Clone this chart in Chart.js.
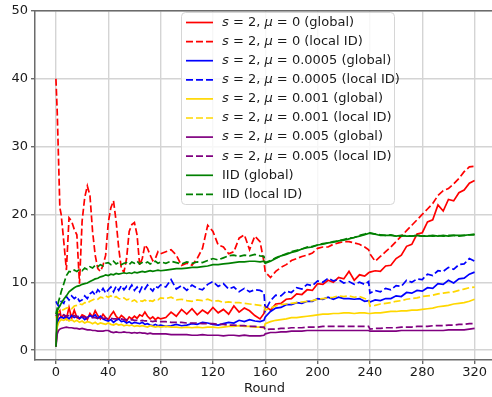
<!DOCTYPE html>
<html lang="en">
<head>
  <meta charset="UTF-8" />
  <title>Accuracy per round</title>
  <script src="https://cdn.jsdelivr.net/npm/chart.js"></script>
  <style>
    html, body { margin: 0; padding: 0; background: #fff; overflow: hidden; }
    canvas { display: block; }
  </style>
</head>
<body>
  <canvas id="roundsChart" width="492" height="397"></canvas>

  <script>
    // rounds where values were logged
    const rounds = [0,1,2,3,4,6,8,10,12,14,16,18,20,22,24,26,28,30,32,34,36,38,40,42,44,46,48,50,52,54,56,58,60,62,64,66,68,70,72,74,76,78,80,
      84,88,92,96,100,104,108,112,116,120,124,128,132,136,140,144,148,152,156,159,
      160,164,168,172,176,180,184,188,192,196,200,204,208,212,216,220,224,228,232,236,239,
      240,244,248,252,256,260,264,268,272,276,280,284,288,292,296,300,304,308,312,316,320];

    const xTicks = [0, 40, 80, 120, 160, 200, 240, 280, 320];
    const yTicks = [0, 10, 20, 30, 40, 50];

    const mu0Global = [0.5,4.3,5.5,5.8,4.8,5.2,4.6,6.3,4.7,5.9,4.8,4.6,5.2,5.0,4.5,5.4,4.9,5.8,5.1,4.6,5.3,4.8,4.5,5.2,5.7,5.0,4.6,5.1,4.8,4.3,4.9,4.6,5.0,4.7,5.2,5.0,5.6,5.0,4.6,4.9,4.5,4.8,4.6,
      4.8,5.6,5.0,6.0,5.3,6.1,5.2,5.9,5.4,6.3,5.5,6.0,5.3,6.5,5.6,6.2,5.8,5.1,4.6,5.4,
      6.5,5.9,6.8,6.9,7.5,7.6,8.3,8.2,8.9,8.8,9.8,9.7,10.3,10.0,10.7,10.5,11.6,10.3,11.1,10.9,11.4,
      11.5,11.7,11.6,12.4,12.5,13.5,14.0,15.3,15.6,17.1,17.3,18.9,19.2,21.4,20.5,22.2,22.0,23.2,23.6,24.6,25.0];
    const mu0Local = [40,35,28,21,20,16,11.8,19.5,19,17.8,17,9.8,19,22.5,24.2,22.8,17.5,14,12,11.6,12.5,14,18.8,21,22,19,15,12,11.5,13.5,17.5,18.5,18.8,17,12.5,13.5,15.5,15,14,13.2,13.5,14.5,14.2,
      14.5,14.8,14,12.5,12.8,12.5,13.5,15,18.4,17.5,15.5,15.2,14.2,14.5,16.5,17,14.8,16.8,16,13,
      11.5,10.7,11.6,12.2,12.6,13.2,13.5,13.8,14,14.3,15,15.2,15.2,15.6,15.8,16,16,15.8,15.6,15.2,14.8,
      14.2,13.1,13.8,14.5,15.2,16,16.8,17.6,18.4,19.2,20,20.8,21.6,22.8,23.5,23.8,24.5,25.3,26.3,27,27.1];
    const mu0005Global = [0.5,3.8,4.5,4.8,4.9,4.7,5.0,4.6,5.1,4.8,5.0,4.7,4.9,4.5,4.8,5.1,4.9,5.2,4.7,5.0,4.6,4.4,4.3,4.5,4.1,4.4,4.6,4.2,4.3,4.0,4.2,3.9,4.1,4.0,3.9,4.1,3.8,3.9,3.7,3.6,3.8,3.6,3.7,
      3.5,3.6,3.8,3.6,3.7,3.9,3.8,4.1,4.0,3.8,3.7,3.9,4.1,4.0,4.4,4.2,4.5,4.3,4.2,4.4,
      4.9,5.7,6.2,6.3,6.7,6.7,7.0,6.9,7.2,7.2,7.6,7.5,7.8,7.5,7.8,7.6,7.6,7.5,7.6,7.2,7.3,
      7.1,7.4,7.3,7.6,7.6,8.0,7.9,8.5,8.4,8.8,8.7,9.2,9.1,9.8,9.7,10.3,9.9,10.5,10.6,11.2,11.5];
    const mu0005Local = [7.2,6.8,6.5,7.0,7.2,6.9,7.9,7.4,8.0,7.6,7.9,7.2,7.4,8.0,7.6,8.3,8.6,8.1,8.9,8.5,9.1,8.4,8.9,9.3,8.6,9.4,8.8,9.5,8.9,9.4,9.0,9.6,8.8,9.3,8.6,9.4,9.0,9.6,9.1,8.7,9.4,9.2,9.6,
      9.3,10.4,9.0,9.5,8.8,9.6,9.1,8.9,9.7,10.1,9.4,9.8,9.0,9.3,8.6,9.1,8.6,8.9,8.8,8.5,
      5.8,7.3,8.1,8.0,8.7,8.5,9.2,9.0,9.7,9.5,10.2,10.0,10.6,10.2,10.4,9.9,10.1,9.7,10.0,9.7,10.1,
      8.4,8.8,8.6,9.1,8.9,9.5,9.4,10.3,10.0,10.5,10.4,11.2,11.0,11.7,11.6,12.2,11.9,12.6,12.7,13.5,13.1];
    const mu001Global = [0.5,3.4,4.0,4.3,4.5,4.4,4.6,4.3,4.5,4.2,4.4,4.1,4.3,4.0,4.2,4.1,3.9,4.1,3.8,4.0,3.9,3.8,4.0,3.8,3.7,3.9,3.7,3.8,3.6,3.7,3.6,3.7,3.5,3.6,3.5,3.6,3.5,3.4,3.6,3.5,3.4,3.5,3.4,
      3.5,3.4,3.4,3.3,3.4,3.3,3.4,3.3,3.4,3.4,3.3,3.4,3.5,3.5,3.6,3.5,3.5,3.4,3.4,3.3,
      3.9,4.2,4.4,4.5,4.6,4.8,4.8,4.9,5.0,5.1,5.2,5.3,5.3,5.4,5.4,5.5,5.5,5.4,5.5,5.5,5.4,
      5.4,5.5,5.5,5.6,5.7,5.7,5.8,5.8,5.9,5.9,6.0,6.1,6.2,6.4,6.5,6.6,6.8,6.9,7.0,7.2,7.5];
    const mu001Local = [4.8,5.3,5.5,5.7,5.8,6.0,6.2,6.3,6.1,6.5,6.6,6.8,6.7,7.0,6.9,7.2,7.4,7.6,7.5,7.8,7.7,8.0,7.8,8.0,7.7,7.9,7.6,7.5,7.7,7.4,7.5,7.2,7.4,7.1,7.3,7.2,7.4,7.1,7.3,7.2,7.5,7.4,7.7,
      7.6,7.8,7.4,7.5,7.3,7.2,7.4,7.3,7.5,7.2,7.3,7.0,7.1,7.0,7.0,6.9,6.8,6.7,6.6,6.5,
      5.9,6.2,6.5,6.7,6.8,6.9,7.0,7.1,7.2,7.3,7.5,7.6,7.7,7.8,8.0,7.9,8.0,7.8,7.9,7.6,7.4,
      6.5,6.6,6.8,6.9,7.0,7.2,7.3,7.5,7.6,7.7,7.9,8.0,8.1,8.3,8.4,8.5,8.6,8.8,9.0,9.2,9.3];
    const mu005Global = [0.5,2.4,2.9,3.1,3.2,3.3,3.4,3.3,3.3,3.2,3.2,3.1,3.2,3.1,3.0,3.0,2.9,2.9,2.8,2.8,2.8,2.9,2.9,2.7,2.6,2.7,2.6,2.6,2.7,2.6,2.6,2.5,2.6,2.5,2.6,2.5,2.5,2.4,2.5,2.4,2.4,2.4,2.4,
      2.4,2.3,2.3,2.3,2.3,2.2,2.2,2.3,2.2,2.2,2.2,2.1,2.2,2.2,2.1,2.2,2.1,2.1,2.1,2.2,
      2.4,2.6,2.6,2.7,2.7,2.8,2.8,2.8,2.9,2.9,2.9,2.9,2.9,2.9,2.9,2.9,2.9,2.9,2.9,2.9,2.9,
      2.8,2.8,2.8,2.8,2.8,2.8,2.9,2.9,2.9,2.9,2.9,2.9,2.9,2.9,2.9,3.0,3.0,3.0,3.0,3.1,3.2];
    const mu005Local = [5.0,5.4,5.2,5.3,5.1,5.2,5.0,5.1,5.0,5.1,4.9,5.0,4.9,4.9,4.8,4.9,4.8,4.8,4.7,4.8,4.7,4.7,4.6,4.7,4.6,4.6,4.5,4.6,4.5,4.5,4.4,4.5,4.4,4.4,4.3,4.4,4.3,4.3,4.3,4.2,4.3,4.2,4.2,
      4.2,4.1,4.1,4.1,4.0,4.0,4.0,3.9,3.9,3.9,3.8,3.8,3.7,3.7,3.6,3.6,3.5,3.5,3.4,3.4,
      3.0,3.1,3.1,3.2,3.2,3.3,3.3,3.3,3.4,3.4,3.4,3.5,3.5,3.5,3.5,3.5,3.5,3.5,3.5,3.5,3.5,
      3.1,3.2,3.2,3.3,3.3,3.3,3.4,3.4,3.4,3.5,3.5,3.5,3.6,3.6,3.6,3.7,3.7,3.8,3.8,3.9,3.9];
    const iidGlobal = [0.5,5.8,6.2,6.5,6.9,7.5,8.0,8.6,8.9,9.2,9.4,9.5,9.7,9.8,9.9,10.1,10.3,10.5,10.6,10.8,10.9,11.1,11.0,11.2,11.1,11.3,11.2,11.3,11.4,11.3,11.4,11.3,11.5,11.4,11.5,11.6,11.5,11.6,11.7,11.6,11.7,11.8,11.7,
      11.8,11.9,12.0,12.0,12.1,12.2,12.2,12.3,12.4,12.6,12.6,12.7,12.8,12.9,13.0,13.0,13.1,13.1,13.0,13.1,
      12.8,13.1,13.5,13.9,14.1,14.4,14.6,14.9,15.1,15.2,15.5,15.6,15.8,15.9,16.1,16.2,16.4,16.6,16.8,17.0,17.2,
      17.2,17.1,16.9,16.9,16.9,16.8,16.9,16.8,16.8,16.9,16.8,16.8,16.9,16.8,16.9,16.8,16.9,16.9,16.9,17.0,17.1];
    const iidLocal = [5.3,6.2,7.2,7.8,8.6,9.8,11.0,11.6,11.5,11.8,11.6,11.9,11.7,12.1,11.9,12.3,12.1,12.5,12.3,12.6,12.4,12.8,12.9,12.6,13.1,12.7,12.9,12.6,12.8,12.9,12.6,13.0,12.8,13.1,12.7,12.9,12.8,13.0,12.7,12.9,13.1,12.8,13.0,
      12.8,13.1,12.9,12.7,13.0,12.8,13.0,12.9,13.2,13.5,13.3,13.6,13.9,14.0,13.8,14.0,13.9,14.1,13.9,13.8,
      12.9,13.2,13.6,13.9,14.2,14.5,14.7,14.9,15.2,15.3,15.5,15.7,15.8,16.0,16.1,16.3,16.5,16.6,16.9,17.1,17.3,
      17.3,17.1,17.0,16.9,17.0,16.8,16.8,16.9,16.8,16.9,16.8,16.9,16.8,16.9,16.8,16.9,16.9,16.8,16.9,17.0,17.0];

    const muLabels = ['0', '0.0005', '0.001', '0.005'];
    const seriesValues = [mu0Global, mu0Local, mu0005Global, mu0005Local, mu001Global, mu001Local, mu005Global, mu005Local, iidGlobal, iidLocal];
    const seriesColors = ['#ff0000', '#ff0000', '#0000ff', '#0000ff', '#ffd700', '#ffd700', '#800080', '#800080', '#008000', '#008000'];
    const seriesDashed = [false, true, false, true, false, true, false, true, false, true];

    // label pieces: [text, italic]
    function labelParts(i) {
      const kind = seriesDashed[i] ? '(local ID)' : '(global)';
      if (i >= 8) return [['IID ' + kind, false]];
      const mu = muLabels[Math.floor(i / 2)];
      return [['s', true], [' = 2, ', false], ['μ', true], [' = ' + mu + ' ' + kind, false]];
    }

    const FONT = '"DejaVu Sans", sans-serif';
    const DASH = [7, 3];
    const LINE_W = 1.7;

    const datasets = seriesValues.map((vals, i) => ({
      label: labelParts(i).map(p => p[0]).join(''),
      data: rounds.map((r, k) => ({ x: r, y: vals[k] })),
      borderColor: seriesColors[i],
      borderWidth: LINE_W,
      borderDash: seriesDashed[i] ? DASH : [],
      pointRadius: 0,
      tension: 0,
      fill: false,
      order: seriesValues.length - i
    }));

    // frame on top, legend box, x axis title
    const decorations = {
      id: 'decorations',
      afterDatasetsDraw(chart) {
        const ctx = chart.ctx;
        const a = chart.chartArea;
        ctx.save();
        ctx.strokeStyle = '#6b6b6b';
        ctx.lineWidth = 1.5;
        ctx.beginPath();
        ctx.moveTo(a.left, a.top);
        ctx.lineTo(a.right, a.top);
        ctx.stroke();

        // legend
        const bx = 181.5, by = 12.5, bw = 213, bh = 192, r = 4;
        ctx.beginPath();
        ctx.moveTo(bx + r, by);
        ctx.arcTo(bx + bw, by, bx + bw, by + bh, r);
        ctx.arcTo(bx + bw, by + bh, bx, by + bh, r);
        ctx.arcTo(bx, by + bh, bx, by, r);
        ctx.arcTo(bx, by, bx + bw, by, r);
        ctx.closePath();
        ctx.fillStyle = 'rgba(255,255,255,0.8)';
        ctx.fill();
        ctx.strokeStyle = '#d6d6d6';
        ctx.lineWidth = 1;
        ctx.stroke();

        ctx.textBaseline = 'middle';
        seriesValues.forEach((_, i) => {
          const y = 22.5 + i * 19.1;
          ctx.beginPath();
          ctx.setLineDash(seriesDashed[i] ? DASH : []);
          ctx.strokeStyle = seriesColors[i];
          ctx.lineWidth = LINE_W;
          ctx.moveTo(186, y);
          ctx.lineTo(213, y);
          ctx.stroke();
          ctx.setLineDash([]);
          let x = 222;
          ctx.fillStyle = '#1a1a1a';
          labelParts(i).forEach(([txt, it]) => {
            ctx.font = (it ? 'italic ' : '') + '13px ' + FONT;
            ctx.fillText(txt, x, y);
            x += ctx.measureText(txt).width;
          });
        });

        ctx.font = '13px ' + FONT;
        ctx.textAlign = 'center';
        ctx.fillStyle = '#1a1a1a';
        ctx.fillText('Round', 264.5, 389);
        ctx.restore();
      }
    };

    new Chart(document.getElementById('roundsChart').getContext('2d'), {
      type: 'line',
      data: { datasets },
      options: {
        responsive: false,
        animation: false,
        devicePixelRatio: 1,
        layout: { padding: { top: 5, right: 0, left: 0, bottom: 0 } },
        plugins: { legend: { display: false }, tooltip: { enabled: false } },
        scales: {
          x: {
            type: 'linear',
            min: -16,
            max: 333.3,
            afterFit: s => { s.height = 37; },
            afterBuildTicks: s => { s.ticks = xTicks.map(v => ({ value: v })); },
            ticks: { font: { size: 13, family: FONT }, color: '#1a1a1a', padding: 1, maxRotation: 0 },
            grid: { color: '#d4d4d4', lineWidth: 1.4, tickColor: '#6b6b6b', tickLength: 4 },
            border: { color: '#6b6b6b', width: 1.5 }
          },
          y: {
            type: 'linear',
            min: -1.45,
            max: 50,
            afterFit: s => { s.width = 35; },
            afterBuildTicks: s => { s.ticks = yTicks.map(v => ({ value: v })); },
            ticks: { font: { size: 13, family: FONT }, color: '#1a1a1a', padding: 3 },
            grid: { color: '#d4d4d4', lineWidth: 1.4, tickColor: '#6b6b6b', tickLength: 4 },
            border: { color: '#6b6b6b', width: 1.5 }
          }
        }
      },
      plugins: [decorations]
    });
  </script>
</body>
</html>
